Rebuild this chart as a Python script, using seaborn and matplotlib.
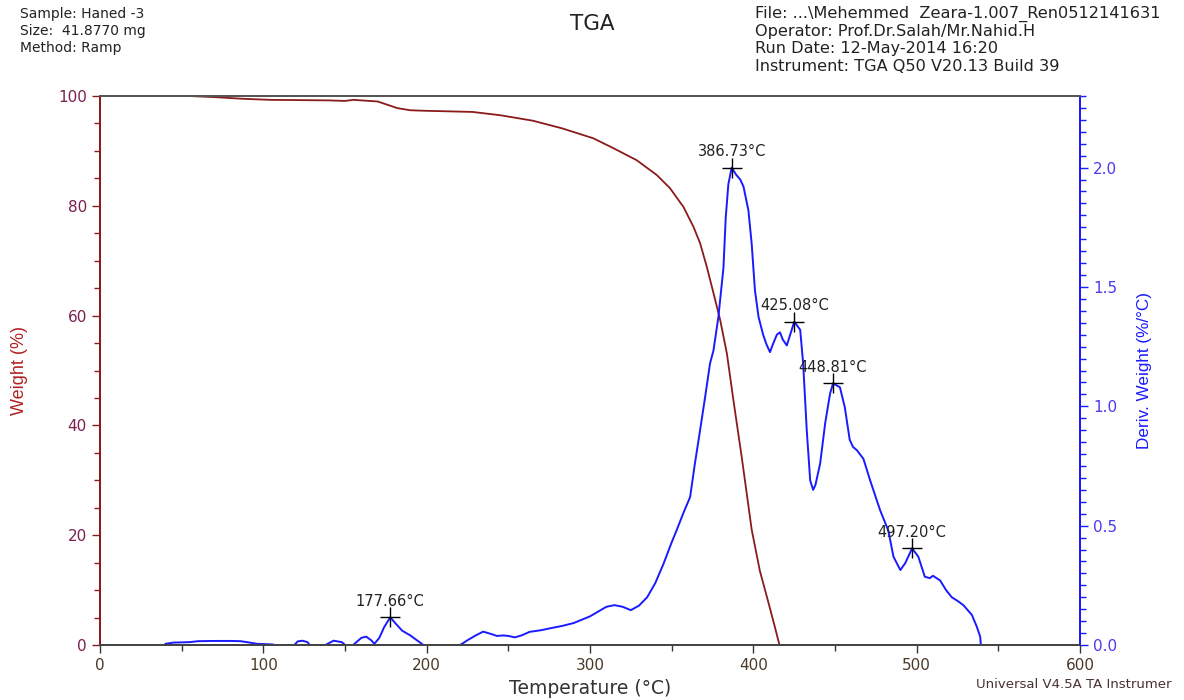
import numpy as np
import pandas as pd
import seaborn as sns
import matplotlib
matplotlib.use("Agg")
import matplotlib.pyplot as plt
from matplotlib.ticker import MultipleLocator

# ---------------- data ----------------
weight_temp = [54, 70, 87, 104, 140, 150, 155, 160, 170, 176, 182, 190, 200, 228, 245, 265,
               283, 302, 314.3, 328.6, 340.9, 349, 357.2, 363.3, 367.4, 371.5, 375.6, 379.7,
               383.8, 387.8, 393, 399, 404, 409, 413, 416]
weight_pct = [100, 99.8, 99.5, 99.3, 99.2, 99.1, 99.3, 99.2, 99.0, 98.4, 97.8, 97.4, 97.3,
              97.1, 96.5, 95.5, 94.1, 92.3, 90.5, 88.3, 85.6, 83.2, 79.8, 76.2, 73.2, 68.9,
              64.1, 59.2, 53.1, 44.6, 34.0, 21.0, 13.5, 8.0, 3.5, 0.0]

deriv_temp = [40, 45, 50, 55, 60, 70, 80, 86, 90, 96, 100, 106, 110, 115, 119, 121, 124, 127,
              129, 132, 135, 138, 143, 148, 151, 153, 155, 160, 163, 166, 168, 171, 174,
              177.7, 181, 185, 190, 194, 197, 200, 210, 218, 221, 225, 230, 234.6, 240, 243,
              247, 250, 254, 258, 263, 270, 275.6, 283, 290, 300, 305, 310, 315, 320, 325,
              330, 335, 340, 345, 350, 353, 357, 361.3, 364, 367.4, 370.5, 373.5, 375.6,
              378.6, 381.7, 383.1, 384.7, 386.73, 389.5, 392, 394, 397, 399, 401, 403.2,
              406, 408, 410.2, 412, 414.4, 416.3, 418, 420.5, 423, 425.08, 428.7, 430.5,
              432.7, 434.8, 436.6, 438, 440.9, 444, 447, 448.81, 453, 456, 459, 461, 463.4,
              467.4, 471.5, 477.6, 482.6, 485.8, 490, 493, 497.2, 501, 505, 508, 510, 514.4,
              518, 521.5, 525, 528.6, 533.8, 536.8, 538.9, 539.3]
deriv_val = [0.005, 0.01, 0.011, 0.012, 0.016, 0.017, 0.017, 0.016, 0.012, 0.005, 0.004,
             0.002, -0.01, -0.01, 0.0, 0.015, 0.018, 0.012, -0.005, -0.015, -0.01, 0.0,
             0.018, 0.012, -0.005, -0.01, 0.0, 0.03, 0.035, 0.02, 0.005, 0.03, 0.075,
             0.116, 0.09, 0.06, 0.04, 0.02, 0.005, -0.01, -0.02, -0.005, 0.002, 0.02, 0.04,
             0.056, 0.045, 0.038, 0.04, 0.038, 0.032, 0.04, 0.055, 0.062, 0.07, 0.08, 0.092,
             0.12, 0.14, 0.16, 0.167, 0.16, 0.146, 0.165, 0.2, 0.26, 0.34, 0.43, 0.48, 0.55,
             0.62, 0.75, 0.90, 1.04, 1.18, 1.234, 1.374, 1.58, 1.79, 1.93, 2.0, 1.97,
             1.95, 1.92, 1.82, 1.68, 1.485, 1.374, 1.30, 1.26, 1.227, 1.26, 1.30, 1.31,
             1.28, 1.255, 1.31, 1.355, 1.32, 1.18, 0.90, 0.69, 0.65, 0.67, 0.76, 0.93,
             1.054, 1.096, 1.08, 0.996, 0.86, 0.83, 0.816, 0.78, 0.69, 0.565, 0.48, 0.37,
             0.314, 0.343, 0.405, 0.37, 0.286, 0.28, 0.29, 0.27, 0.23, 0.20, 0.185, 0.167,
             0.126, 0.077, 0.035, 0.0]

peak_temp = [177.66, 386.73, 425.08, 448.81, 497.20]
peak_val = [0.116, 2.0, 1.355, 1.096, 0.405]
peak_labels = ["177.66°C", "386.73°C", "425.08°C", "448.81°C", "497.20°C"]

x_ticks = [0, 100, 200, 300, 400, 500, 600]
left_ticks = [0, 20, 40, 60, 80, 100]
right_ticks = [0.0, 0.5, 1.0, 1.5, 2.0]

header_left = ["Sample: Haned -3", "Size:  41.8770 mg", "Method: Ramp"]
header_right = ["File: ...\\Mehemmed  Zeara-1.007_Ren0512141631",
                "Operator: Prof.Dr.Salah/Mr.Nahid.H",
                "Run Date: 12-May-2014 16:20",
                "Instrument: TGA Q50 V20.13 Build 39"]

# ---------------- style ----------------
sns.set_style("white")
plt.rcParams['font.family'] = ['DejaVu Sans']
VFONT = ['Liberation Sans', 'DejaVu Sans']

RED = "#8b1a1a"
BLUE = "#1a1aff"
LEFT_TXT = "#7a2050"
RIGHT_TXT = "#4a3af0"
X_TXT = "#4a3a2a"

fig = plt.figure(figsize=(11.84, 7.0), dpi=100)
ax = fig.add_axes([100/1184, 55/700, 980/1184, 549/700])
ax2 = ax.twinx()

wdf = pd.DataFrame({"T": weight_temp, "W": weight_pct})
ddf = pd.DataFrame({"T": deriv_temp, "D": deriv_val})

sns.lineplot(data=wdf, x="T", y="W", ax=ax, color=RED, linewidth=1.3,
             sort=False, estimator=None)
sns.lineplot(data=ddf, x="T", y="D", ax=ax2, color=BLUE, linewidth=1.4,
             sort=False, estimator=None)

ax2.scatter(peak_temp, peak_val, marker="+", s=220, color="black", linewidths=1.0, zorder=5)
for t, v, lab in zip(peak_temp, peak_val, peak_labels):
    ax2.annotate(lab, (t, v), xytext=(0, 6), textcoords="offset points",
                 ha="center", va="bottom", fontsize=10.5, color="#222222")

ax.set_xlim(0, 600)
ax.set_ylim(0, 100)
ax2.set_ylim(0, 2.3)

ax.set_xticks(x_ticks)
ax.set_yticks(left_ticks)
ax2.set_yticks(right_ticks)
ax2.set_yticklabels([f"{v:.1f}" for v in right_ticks])
ax.xaxis.set_minor_locator(MultipleLocator(50))
ax.yaxis.set_minor_locator(MultipleLocator(5))
ax2.yaxis.set_minor_locator(MultipleLocator(0.05))

ax.tick_params(axis="x", which="major", direction="out", length=6, width=1, pad=3,
               color="#333333", labelcolor=X_TXT, labelsize=11, bottom=True)
ax.tick_params(axis="x", which="minor", direction="out", length=4, width=1,
               color="#333333", bottom=True)
ax.tick_params(axis="y", which="major", direction="out", length=6, width=1,
               color=RED, labelcolor=LEFT_TXT, labelsize=11, left=True)
ax.tick_params(axis="y", which="minor", direction="out", length=4, width=1,
               color=RED, left=True)
ax2.tick_params(axis="y", which="major", direction="out", length=6, width=1,
                color=BLUE, labelcolor=RIGHT_TXT, labelsize=11, right=True)
ax2.tick_params(axis="y", which="minor", direction="out", length=4, width=1,
                color=BLUE, right=True)

for a in (ax, ax2):
    a.spines["top"].set_color("#555555")
    a.spines["top"].set_linewidth(1.3)
    a.spines["bottom"].set_color("#444444")
    a.spines["bottom"].set_linewidth(1.3)
    a.spines["left"].set_color(RED)
    a.spines["left"].set_linewidth(1.3)
    a.spines["right"].set_color(BLUE)
    a.spines["right"].set_linewidth(1.3)
    a.grid(False)

ax.set_xlabel("Temperature (°C)", fontsize=13.5, color="#333333")
ax.xaxis.set_label_coords(0.5, (645 - 688) / 549)
ax.xaxis.label.set_va("center")
ax.set_ylabel("Weight (%)", fontsize=13, color="#b22222", family=VFONT)
ax.yaxis.set_label_coords((20 - 100) / 980, 0.5)
ax.yaxis.label.set_va("center")
ax2.set_ylabel("Deriv. Weight (%/°C)", fontsize=12.3, color=BLUE, family=VFONT)
ax2.yaxis.set_label_coords((1145 - 100) / 980, 0.5)
ax2.yaxis.label.set_va("center")

# header
for i, s in enumerate(header_left):
    fig.text(20/1184, 1 - (14 + 17*i)/700, s, fontsize=10, va="center", ha="left", color="#222222")
for i, s in enumerate(header_right):
    fig.text(755/1184, 1 - (14 + 17.5*i)/700, s, fontsize=11.6, va="center", ha="left", color="#222222")
fig.text(592/1184, 1 - 24/700, "TGA", fontsize=15.5, va="center", ha="center", color="#222222")
fig.text(1172/1184, 1 - 685/700, "Universal V4.5A TA Instrumer", fontsize=9.5,
         va="center", ha="right", color="#4a3030")

fig.savefig("out.png", dpi=100, facecolor="white")
